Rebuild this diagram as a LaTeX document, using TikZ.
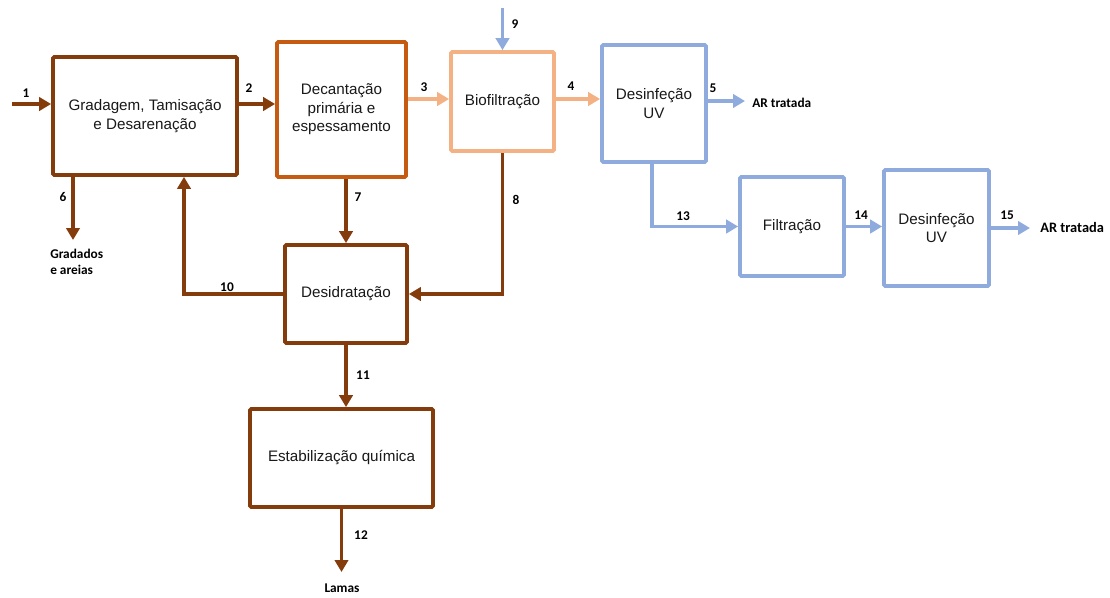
\documentclass[tikz,border=0pt]{standalone}
\usepackage{fontspec}
\setmainfont{Liberation Sans}
\newfontfamily\lblfont{Carlito}
\usetikzlibrary{arrows.meta}
\definecolor{brn}{HTML}{843C0C}
\definecolor{org}{HTML}{C55A11}
\definecolor{lorg}{HTML}{F4B183}
\definecolor{lblue}{HTML}{8FAADC}
\begin{document}
\begin{tikzpicture}[x=0.75pt,y=-0.75pt,
  box/.style={draw, line width=2.8pt, rounded corners=1pt, fill=white,
    inner sep=0pt, align=center, font=\fontsize{11.4}{13.9}\selectfont, text=black!90},
  arr/.style={line width=2.7pt, -{Triangle[length=9pt,width=10pt]}},
  lbl/.style={font=\lblfont\bfseries\fontsize{10}{12.5}\selectfont, inner sep=0pt}]
\useasboundingbox (0,0) rectangle (1110,597);

% process units
\node[box, draw=brn, minimum width=138pt, minimum height=88.5pt] (A) at (145,116) {Gradagem, Tamisação\\e Desarenação};
\node[box, draw=org, minimum width=96.75pt, minimum height=101.25pt] (B) at (341.5,109.5) {Decantação\\primária e\\espessamento};
\node[box, draw=lorg, minimum width=77.25pt, minimum height=74.25pt] (C) at (502.5,101.5) {Biofiltração};
\node[box, draw=lblue, minimum width=78pt, minimum height=87.75pt] (D) at (654,103.5) {Desinfeção\\UV};
\node[box, draw=lblue, minimum width=78pt, minimum height=74.25pt] (E) at (792,226.5) {Filtração};
\node[box, draw=lblue, minimum width=78.75pt, minimum height=87pt] (F) at (936.5,228) {Desinfeção\\UV};
\node[box, draw=brn, minimum width=91.5pt, minimum height=73.5pt] (G) at (346,294) {Desidratação};
\node[box, draw=brn, minimum width=137.25pt, minimum height=73.5pt] (H) at (341.5,458) {Estabilização química};

% free ends of the streams
\coordinate (in1) at (12,104);
\coordinate (in9) at (502.5,8);
\coordinate (out5) at (745,101);
\coordinate (out6) at (73,240);
\coordinate (out12) at (341.5,572);
\coordinate (out15) at (1030,228);

% sludge line
\draw[arr, brn] (in1) -- (A.west |- in1);
\draw[arr, brn] (A.east |- 0,104) -- (B.west |- 0,104);
\draw[arr, brn] (A.south -| out6) -- (out6);
\draw[arr, brn] (B.south -| G.north) -- (G.north);
\draw[arr, brn] (C.south) |- (G.east);
\draw[arr, brn] (G.west) -| (A.south -| 184,0);
\draw[arr, brn] (G.south) -- (H.north -| G.south);
\draw[arr, brn] (H.south) -- (out12);

% liquid line
\draw[arr, lorg] (B.east |- 0,99) -- (C.west |- 0,99);
\draw[arr, lorg] (C.east |- 0,99) -- (D.west |- 0,99);
\draw[arr, lblue] (in9) -- (C.north);
\draw[arr, lblue] (D.east |- out5) -- (out5);
\draw[arr, lblue] (D.south -| 652,0) |- (E.west);
\draw[arr, lblue] (E.east) -- (F.west |- E.east);
\draw[arr, lblue] (F.east) -- (out15);

% stream numbers
\node[lbl] (n1) at (26,93) {1};
\node[lbl] (n2) at (249,88) {2};
\node[lbl] (n3) at (424,87) {3};
\node[lbl] (n4) at (571,86) {4};
\node[lbl] (n5) at (713,88) {5};
\node[lbl] (n6) at (63,197) {6};
\node[lbl] (n7) at (358,197) {7};
\node[lbl] (n8) at (516,200) {8};
\node[lbl] (n9) at (515,24) {9};
\node[lbl] (n10) at (227,287) {10};
\node[lbl] (n11) at (363,375) {11};
\node[lbl] (n12) at (361,535) {12};
\node[lbl] (n13) at (683,216) {13};
\node[lbl] (n14) at (861,215) {14};
\node[lbl] (n15) at (1007,215) {15};

% outlet texts
\node[lbl, anchor=west] (t5) at (752,103) {AR tratada};
\node[lbl, anchor=west, font=\lblfont\bfseries\fontsize{10.8}{13}\selectfont] (t15) at (1040,227) {AR tratada};
\node[lbl, anchor=north west, align=left, font=\lblfont\bfseries\fontsize{10}{12}\selectfont] (t6) at (50,249) {Gradados\\e areias};
\node[lbl] (t12) at (342,588) {Lamas};
\end{tikzpicture}
\end{document}
